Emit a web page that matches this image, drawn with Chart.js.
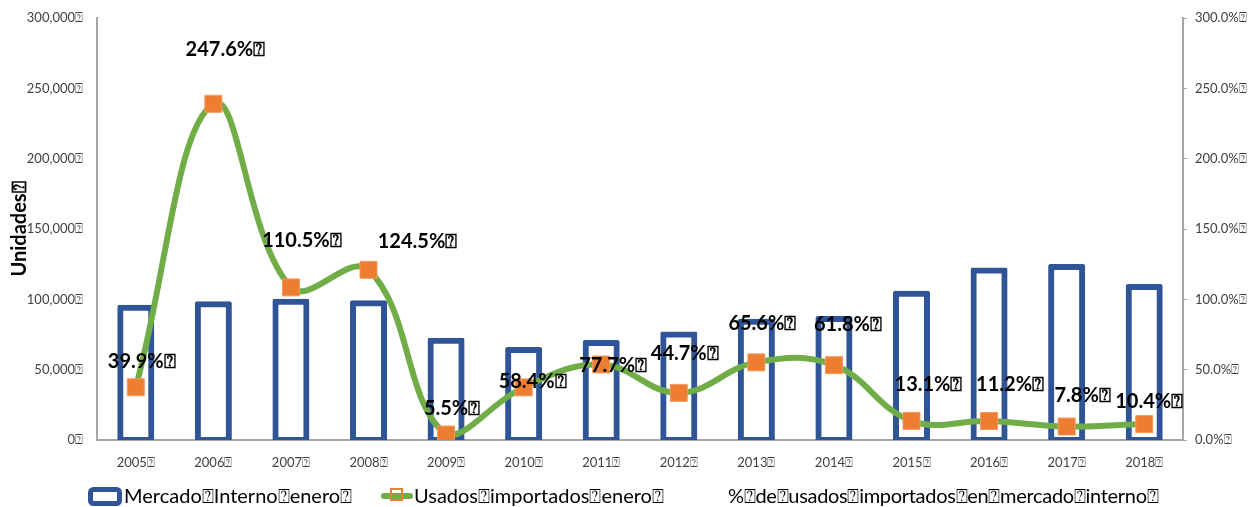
<!DOCTYPE html>
<html>
<head>
<meta charset="utf-8">
<script src="https://cdn.jsdelivr.net/npm/chart.js@4.4.0/dist/chart.umd.min.js"></script>
<style>
  body { margin: 0; background: #fff; }
  .container { width: 1248px; height: 507px; position: relative; }
</style>
</head>
<body>
<div class="container"><canvas id="mercadoChart"></canvas></div>
<script>
// missing-glyph box that shows up in every text of the original
const Q = "\u2370";

const years = ["2005", "2006", "2007", "2008", "2009", "2010", "2011", "2012", "2013", "2014", "2015", "2016", "2017", "2018"];
const mercadoInterno = [94000, 96500, 98300, 97200, 70500, 64000, 69000, 75000, 84000, 86000, 104000, 120500, 123000, 108700];
const usadosImportados = [37500, 239000, 108500, 121000, 3900, 37400, 53700, 33500, 55200, 53200, 13600, 13500, 9600, 11300];
const pctUsados = [39.9, 247.6, 110.5, 124.5, 5.5, 58.4, 77.7, 44.7, 65.6, 61.8, 13.1, 11.2, 7.8, 10.4];
const seriesNames = ["Mercado Interno enero", "Usados importados enero", "% de usados importados en mercado interno"];

// where each % label sits relative to its marker
const labelDx = [6, 12, 11, 49, 6, 9, 12, 6, 6, 14, 17, 21, 16, 5];
const labelDy = [-26, -54, -47, -28, -26, -6, 1, -39, -39, -41, -36, -36, -31, -23];

const blue = "#2F5597";
const green = "#70AD47";
const orange = "#ED7D31";
const axisGray = "#A6A6A6";
const fontFamily = "Lato, 'Liberation Sans', sans-serif";

function withBox(s) {
    return s.split(" ").join(Q) + Q;
}

// percentage labels drawn next to each marker
const pctLabels = {
    id: "pctLabels",
    afterDatasetsDraw(chart) {
        const ctx = chart.ctx;
        const meta = chart.getDatasetMeta(1);
        ctx.save();
        ctx.font = "bold 20px " + fontFamily;
        ctx.fillStyle = "#000";
        ctx.textAlign = "center";
        ctx.textBaseline = "middle";
        meta.data.forEach((pt, i) => {
            ctx.fillText(pctUsados[i].toFixed(1) + "%" + Q, pt.x + labelDx[i], pt.y + labelDy[i]);
        });
        ctx.restore();
    }
};

// legend along the bottom edge
const bottomLegend = {
    id: "bottomLegend",
    afterDraw(chart) {
        const ctx = chart.ctx;
        const y = 497;
        ctx.save();

        ctx.strokeStyle = blue;
        ctx.lineWidth = 5;
        ctx.beginPath();
        ctx.roundRect(90.5, 489.5, 29, 14, 3);
        ctx.stroke();

        ctx.strokeStyle = green;
        ctx.lineWidth = 6;
        ctx.lineCap = "round";
        ctx.beginPath();
        ctx.moveTo(384, y - 1);
        ctx.lineTo(410, y - 1);
        ctx.stroke();
        ctx.strokeStyle = orange;
        ctx.lineWidth = 2;
        ctx.strokeRect(391, 489, 11, 11);

        ctx.font = "20px " + fontFamily;
        ctx.fillStyle = "#000";
        ctx.textAlign = "left";
        ctx.textBaseline = "middle";
        ctx.fillText(withBox(seriesNames[0]), 124, y);
        ctx.fillText(withBox(seriesNames[1]), 414, y);
        ctx.letterSpacing = "-0.3px";
        ctx.fillText(withBox(seriesNames[2]), 728, y);
        ctx.restore();
    }
};

const ctx = document.getElementById("mercadoChart").getContext("2d");

new Chart(ctx, {
    data: {
        labels: years,
        datasets: [
            {
                type: "bar",
                label: seriesNames[0],
                data: mercadoInterno,
                yAxisID: "y",
                backgroundColor: "#fff",
                borderColor: blue,
                borderWidth: 6,
                borderSkipped: false,
                borderRadius: 2,
                inflateAmount: 3,
                barPercentage: 0.4,
                categoryPercentage: 1,
                order: 2
            },
            {
                type: "line",
                label: seriesNames[1],
                data: usadosImportados,
                yAxisID: "y",
                borderColor: green,
                borderWidth: 6,
                tension: 0.4,
                pointStyle: "rect",
                pointRadius: 12,
                pointBackgroundColor: orange,
                pointBorderColor: "#F39A5E",
                pointBorderWidth: 1,
                order: 0
            },
            {
                type: "line",
                label: seriesNames[2],
                data: pctUsados,
                yAxisID: "y2",
                showLine: false,
                pointRadius: 0,
                order: 1
            }
        ]
    },
    options: {
        responsive: true,
        maintainAspectRatio: false,
        animation: false,
        layout: { padding: { top: 18, left: 0, right: 0, bottom: 0 } },
        plugins: {
            legend: { display: false },
            tooltip: { enabled: false }
        },
        scales: {
            x: {
                grid: { display: false },
                border: { display: true, color: axisGray, width: 2 },
                ticks: {
                    color: "#404040",
                    font: { family: fontFamily, size: 13 },
                    padding: 7,
                    maxRotation: 0,
                    callback: (v, i) => years[i] + Q
                },
                afterFit: s => { s.height = 67; }
            },
            y: {
                position: "left",
                min: 0,
                max: 300000,
                grid: { display: false },
                border: { display: true, color: axisGray, width: 2 },
                ticks: {
                    stepSize: 50000,
                    color: "#404040",
                    font: { family: fontFamily, size: 13 },
                    padding: 6,
                    callback: v => v.toLocaleString("en-US") + Q
                },
                title: {
                    display: true,
                    text: "Unidades" + Q,
                    color: "#000",
                    font: { family: fontFamily, size: 20, weight: "bold" },
                    padding: { top: 8, bottom: 0 }
                },
                afterFit: s => { s.width = 97; }
            },
            y2: {
                position: "right",
                min: 0,
                max: 300,
                grid: { display: true, drawOnChartArea: false, drawTicks: true, tickLength: 4, color: axisGray },
                border: { display: true, color: axisGray, width: 2 },
                ticks: {
                    stepSize: 50,
                    color: "#404040",
                    font: { family: fontFamily, size: 13 },
                    padding: 8,
                    callback: v => v.toFixed(1) + "%" + Q
                },
                afterFit: s => { s.width = 65; }
            }
        }
    },
    plugins: [pctLabels, bottomLegend]
});
</script>
</body>
</html>
